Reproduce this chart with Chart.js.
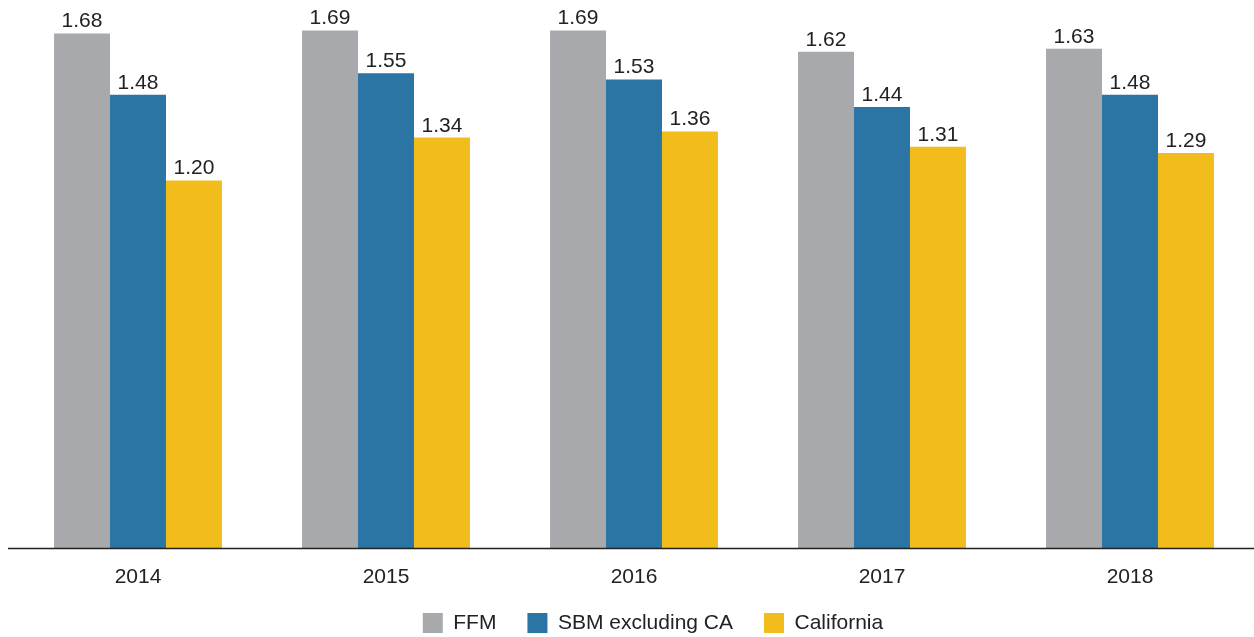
<!DOCTYPE html>
<html>
<head>
<meta charset="utf-8">
<script src="https://cdn.jsdelivr.net/npm/chart.js@4"></script>
<style>
  html, body { margin: 0; padding: 0; background: #fff; }
  #wrap { width: 1254px; height: 637px; }
</style>
</head>
<body>
<div id="wrap"><canvas id="chart"></canvas></div>
<script>
// Data
const years = ['2014', '2015', '2016', '2017', '2018'];
const ffm = [1.68, 1.69, 1.69, 1.62, 1.63];
const sbmExCa = [1.48, 1.55, 1.53, 1.44, 1.48];
const california = [1.20, 1.34, 1.36, 1.31, 1.29];

const FONT = "'Liberation Sans', Helvetica, Arial, sans-serif";
const TEXT = '#222222';

// value labels above bars + long baseline
const barLabels = {
    id: 'barLabels',
    afterDatasetsDraw(chart) {
        const ctx = chart.ctx;
        ctx.save();
        ctx.font = '21px ' + FONT;
        ctx.fillStyle = TEXT;
        ctx.textAlign = 'center';
        ctx.textBaseline = 'alphabetic';
        chart.data.datasets.forEach((ds, i) => {
            chart.getDatasetMeta(i).data.forEach((bar, j) => {
                ctx.fillText(ds.data[j].toFixed(2), bar.x, bar.y - 6);
            });
        });
        // baseline
        const y = chart.chartArea.bottom + 0.5;
        ctx.strokeStyle = '#222';
        ctx.lineWidth = 1.5;
        ctx.beginPath();
        ctx.moveTo(8, y);
        ctx.lineTo(chart.width, y);
        ctx.stroke();
        ctx.restore();
    }
};

// nudge the legend a bit, like the original
const LEGEND_DX = 19;
const LEGEND_DY = -7.5;
const legendShift = {
    id: 'legendShift',
    afterLayout(chart) {
        const lg = chart.legend;
        lg.left += LEGEND_DX;
        lg.right += LEGEND_DX;
        lg.top += LEGEND_DY;
        lg.bottom += LEGEND_DY;
    }
};

new Chart(document.getElementById('chart'), {
    type: 'bar',
    data: {
        labels: years,
        datasets: [{
            label: 'FFM',
            data: ffm,
            backgroundColor: '#a7a9ac'
        }, {
            label: 'SBM excluding CA',
            data: sbmExCa,
            backgroundColor: '#2a75a3'
        }, {
            label: 'California',
            data: california,
            backgroundColor: '#f2bd1c'
        }]
    },
    options: {
        responsive: true,
        maintainAspectRatio: false,
        animation: false,
        layout: {
            padding: { left: 14, right: 0, top: 12, bottom: -6 }
        },
        datasets: {
            bar: {
                categoryPercentage: 0.677,
                barPercentage: 1
            }
        },
        scales: {
            x: {
                grid: { display: false },
                border: { display: false },
                ticks: {
                    color: TEXT,
                    font: { family: FONT, size: 21 },
                    padding: 9
                },
                afterFit(axis) {
                    axis.height = 41;
                }
            },
            y: {
                display: false,
                min: 0,
                max: 1.75
            }
        },
        plugins: {
            legend: {
                position: 'bottom',
                maxHeight: 54,
                labels: {
                    color: TEXT,
                    font: { family: FONT, size: 21 },
                    boxWidth: 20,
                    boxHeight: 20,
                    padding: 31
                }
            },
            tooltip: { enabled: false }
        }
    },
    plugins: [barLabels, legendShift]
});
</script>
</body>
</html>
